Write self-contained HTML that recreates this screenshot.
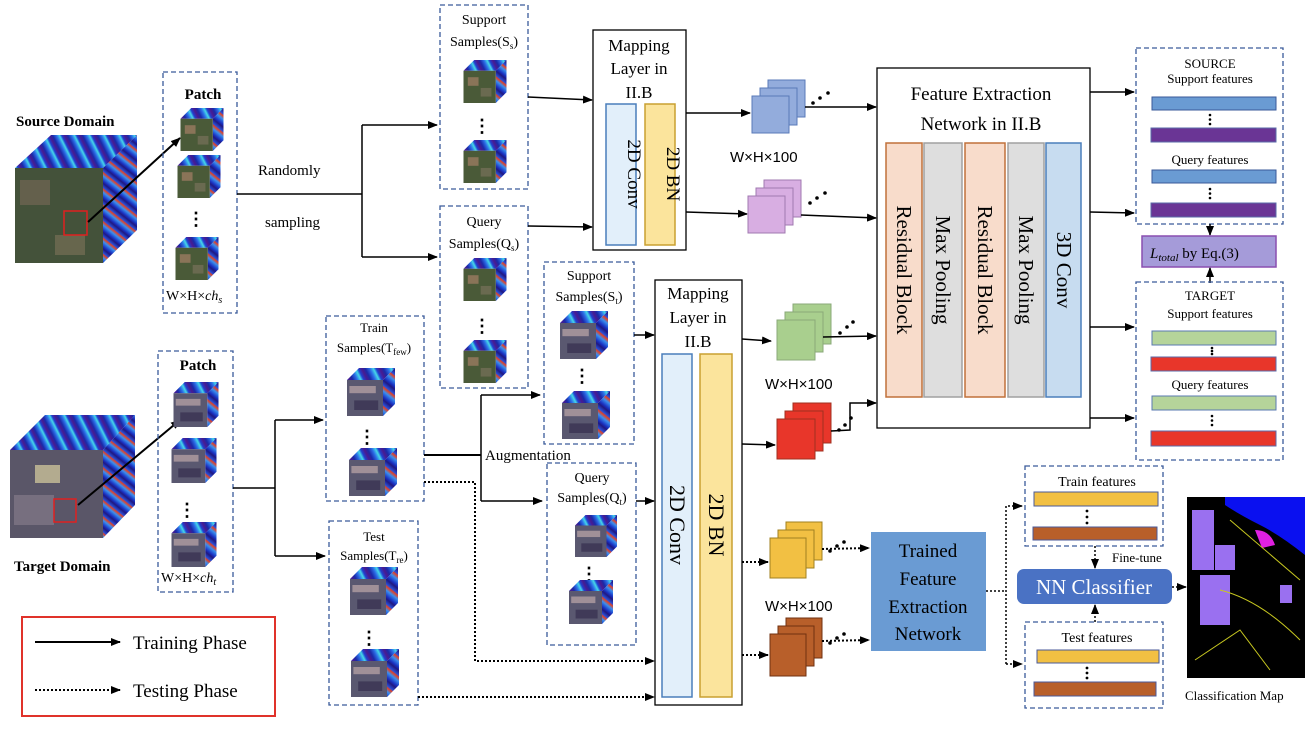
<!DOCTYPE html>
<html><head><meta charset="utf-8"><style>
html,body{margin:0;padding:0;background:#fff;}
svg{display:block;}
text{font-family:"Liberation Serif",serif;fill:#000;}
.s{font-family:"Liberation Sans",sans-serif;}
</style></head><body>
<svg width="1315" height="732" viewBox="0 0 1315 732" xmlns="http://www.w3.org/2000/svg">
<defs>
<linearGradient id="st" x1="0" y1="0" x2="12" y2="-6" gradientUnits="userSpaceOnUse" spreadMethod="repeat">
<stop offset="0" stop-color="#1a2aa8"/><stop offset="0.25" stop-color="#2c6ee8"/><stop offset="0.45" stop-color="#45d8e8"/><stop offset="0.6" stop-color="#2040d0"/><stop offset="0.8" stop-color="#4a1a90"/><stop offset="1" stop-color="#1a2aa8"/>
</linearGradient>
<linearGradient id="st2" x1="0" y1="0" x2="8" y2="-10" gradientUnits="userSpaceOnUse" spreadMethod="repeat">
<stop offset="0" stop-color="#1a30c0"/><stop offset="0.3" stop-color="#3a90f0"/><stop offset="0.5" stop-color="#e84020"/><stop offset="0.6" stop-color="#2a50d8"/><stop offset="0.85" stop-color="#201880"/><stop offset="1" stop-color="#1a30c0"/>
</linearGradient>
<marker id="a" markerWidth="10" markerHeight="8" refX="9" refY="4" orient="auto" markerUnits="userSpaceOnUse"><path d="M0,0L10,4L0,8z" fill="#000"/></marker>
<symbol id="cg" viewBox="0 0 40 40"><polygon points="0,10 10,0 40,0 30,10" fill="url(#st)"/><polygon points="30,10 40,0 40,30 30,40" fill="url(#st2)"/><rect x="0" y="10" width="30" height="30" fill="#4a5a38"/><rect x="4" y="16" width="10" height="8" fill="#8a7458"/><rect x="16" y="26" width="10" height="8" fill="#6a6a50"/></symbol>
<symbol id="ct" viewBox="0 0 40 40"><polygon points="0,10 10,0 40,0 30,10" fill="url(#st)"/><polygon points="30,10 40,0 40,30 30,40" fill="url(#st2)"/><rect x="0" y="10" width="30" height="30" fill="#5a5870"/><rect x="2" y="15" width="22" height="6" fill="#a09098"/><rect x="6" y="27" width="20" height="8" fill="#403a58"/></symbol>
</defs>

<text x="16" y="126" font-size="15" font-weight="bold">Source Domain</text>
<polygon points="15,168 51,135 137,135 103,168" fill="url(#st)"/>
<polygon points="103,168 137,135 137,230 103,263" fill="url(#st2)"/>
<rect x="15" y="168" width="88" height="95" fill="#44523a"/>
<rect x="20" y="180" width="30" height="25" fill="#7a6a58" opacity=".6"/>
<rect x="55" y="235" width="30" height="20" fill="#8a7a60" opacity=".5"/>
<rect x="64" y="211" width="23" height="24" fill="none" stroke="#e02020" stroke-width="1.5"/>
<line x1="88" y1="222" x2="180" y2="138" stroke="#000" stroke-width="2" marker-end="url(#a)"/>

<rect x="163" y="72" width="74" height="241" fill="none" stroke="#3a5a9a" stroke-width="1.3" stroke-dasharray="5,3"/>
<text x="203" y="99" font-size="15" font-weight="bold" text-anchor="middle">Patch</text>
<use href="#cg" x="179" y="108" width="46" height="43"/>
<use href="#cg" x="176" y="155" width="46" height="43"/>
<text x="187" y="225" font-size="18" font-weight="bold">⋮</text>
<use href="#cg" x="174" y="237" width="46" height="43"/>
<text x="166" y="300" font-size="14">W×H×<tspan font-style="italic">ch<tspan font-size="10" dy="3">s</tspan></tspan></text>

<polyline points="237,194 362,194" fill="none" stroke="#000" stroke-width="1.5"/>
<polyline points="362,125 362,257" fill="none" stroke="#000" stroke-width="1.5"/>
<line x1="362" y1="125" x2="437" y2="125" stroke="#000" stroke-width="1.5" marker-end="url(#a)"/>
<line x1="362" y1="257" x2="437" y2="257" stroke="#000" stroke-width="1.5" marker-end="url(#a)"/>
<text x="258" y="175" font-size="15">Randomly</text>
<text x="265" y="227" font-size="15">sampling</text>

<rect x="440" y="5" width="88" height="184" fill="none" stroke="#3a5a9a" stroke-width="1.3" stroke-dasharray="5,3"/>
<text x="484" y="24" font-size="14" text-anchor="middle">Support</text>
<text x="484" y="46" font-size="14" text-anchor="middle">Samples(S<tspan font-size="9" dy="3">s</tspan><tspan dy="-3">)</tspan></text>
<use href="#cg" x="462" y="60" width="46" height="43"/>
<text x="473" y="132" font-size="18" font-weight="bold">⋮</text>
<use href="#cg" x="462" y="140" width="46" height="43"/>
<rect x="440" y="206" width="88" height="182" fill="none" stroke="#3a5a9a" stroke-width="1.3" stroke-dasharray="5,3"/>
<text x="484" y="226" font-size="14" text-anchor="middle">Query</text>
<text x="484" y="248" font-size="14" text-anchor="middle">Samples(Q<tspan font-size="9" dy="3">s</tspan><tspan dy="-3">)</tspan></text>
<use href="#cg" x="462" y="258" width="46" height="43"/>
<text x="473" y="332" font-size="18" font-weight="bold">⋮</text>
<use href="#cg" x="462" y="340" width="46" height="43"/>

<line x1="528" y1="97" x2="592" y2="100" stroke="#000" stroke-width="1.5" marker-end="url(#a)"/>
<line x1="528" y1="226" x2="592" y2="227" stroke="#000" stroke-width="1.5" marker-end="url(#a)"/>

<rect x="593" y="30" width="93" height="220" fill="#fff" stroke="#000" stroke-width="1.3"/>
<text x="639" y="51" font-size="17" text-anchor="middle">Mapping</text>
<text x="639" y="74" font-size="17" text-anchor="middle">Layer in</text>
<text x="639" y="98" font-size="17" text-anchor="middle">II.B</text>
<rect x="606" y="104" width="30" height="141" fill="#e2effa" stroke="#4a7ebb" stroke-width="1.5"/>
<rect x="645" y="104" width="30" height="141" fill="#fbe49c" stroke="#c9a030" stroke-width="1.5"/>
<text transform="translate(628,174) rotate(90)" font-size="19" text-anchor="middle">2D Conv</text>
<text transform="translate(667,174) rotate(90)" font-size="19" text-anchor="middle">2D BN</text>

<line x1="686" y1="113" x2="750" y2="113" stroke="#000" stroke-width="1.5" marker-end="url(#a)"/>
<g stroke="#5a7ab8" stroke-width="1" fill="#93acdc"><rect x="768" y="80" width="37" height="37"/><rect x="760" y="88" width="37" height="37"/><rect x="752" y="96" width="37" height="37"/></g>
<g fill="#000"><circle cx="813" cy="103" r="1.8"/><circle cx="820" cy="98" r="1.8"/><circle cx="828" cy="93" r="1.8"/></g>
<line x1="805" y1="107" x2="876" y2="107" stroke="#000" stroke-width="1.5" marker-end="url(#a)"/>
<text x="730" y="162" font-size="15" class="s">W×H×100</text>
<line x1="686" y1="212" x2="747" y2="214" stroke="#000" stroke-width="1.5" marker-end="url(#a)"/>
<g stroke="#a07ab0" stroke-width="1" fill="#d8aee2"><rect x="764" y="180" width="37" height="37"/><rect x="756" y="188" width="37" height="37"/><rect x="748" y="196" width="37" height="37"/></g>
<g fill="#000"><circle cx="810" cy="203" r="1.8"/><circle cx="817" cy="198" r="1.8"/><circle cx="825" cy="193" r="1.8"/></g>
<line x1="801" y1="215" x2="876" y2="218" stroke="#000" stroke-width="1.5" marker-end="url(#a)"/>

<rect x="877" y="68" width="213" height="360" fill="#fff" stroke="#000" stroke-width="1.3"/>
<text x="981" y="100" font-size="19" text-anchor="middle">Feature Extraction</text>
<text x="981" y="130" font-size="19" text-anchor="middle">Network in II.B</text>
<rect x="886" y="143" width="36" height="254" fill="#f8dccb" stroke="#c0703a" stroke-width="1.5"/>
<rect x="924" y="143" width="38" height="254" fill="#dedede" stroke="#a0a0a0" stroke-width="1.5"/>
<rect x="965" y="143" width="40" height="254" fill="#f8dccb" stroke="#c0703a" stroke-width="1.5"/>
<rect x="1008" y="143" width="36" height="254" fill="#dedede" stroke="#a0a0a0" stroke-width="1.5"/>
<rect x="1046" y="143" width="35" height="254" fill="#c7dcf0" stroke="#4a7ebb" stroke-width="1.5"/>
<text transform="translate(897,270) rotate(90)" font-size="21" text-anchor="middle">Residual Block</text>
<text transform="translate(936,270) rotate(90)" font-size="21" text-anchor="middle">Max Pooling</text>
<text transform="translate(978,270) rotate(90)" font-size="21" text-anchor="middle">Residual Block</text>
<text transform="translate(1019,270) rotate(90)" font-size="21" text-anchor="middle">Max Pooling</text>
<text transform="translate(1057,270) rotate(90)" font-size="21" text-anchor="middle">3D Conv</text>

<g stroke="#000" stroke-width="1.5" marker-end="url(#a)">
<line x1="1090" y1="92" x2="1134" y2="92"/><line x1="1090" y1="212" x2="1134" y2="213"/>
<line x1="1090" y1="327" x2="1134" y2="327"/><line x1="1090" y1="418" x2="1134" y2="418"/>
</g>

<rect x="1136" y="48" width="147" height="176" fill="none" stroke="#3a5a9a" stroke-width="1.3" stroke-dasharray="5,3"/>
<text x="1210" y="68" font-size="13" text-anchor="middle">SOURCE</text>
<text x="1210" y="83" font-size="13" text-anchor="middle">Support features</text>
<rect x="1152" y="97" width="124" height="13" fill="#6a9bd3" stroke="#3a5a9a"/>
<g fill="#000"><circle cx="1210" cy="115" r="1.3"/><circle cx="1210" cy="119.5" r="1.3"/><circle cx="1210" cy="124" r="1.3"/></g>
<rect x="1151" y="128" width="125" height="14" fill="#6a3595" stroke="#5a6aa8"/>
<text x="1210" y="164" font-size="13" text-anchor="middle">Query features</text>
<rect x="1152" y="170" width="124" height="13" fill="#6a9bd3" stroke="#3a5a9a"/>
<g fill="#000"><circle cx="1210" cy="189" r="1.3"/><circle cx="1210" cy="193.5" r="1.3"/><circle cx="1210" cy="198" r="1.3"/></g>
<rect x="1151" y="203" width="125" height="14" fill="#6a3595" stroke="#5a6aa8"/>
<line x1="1210" y1="224" x2="1210" y2="235" stroke="#000" stroke-width="1.5" marker-end="url(#a)"/>
<rect x="1142" y="236" width="134" height="31" fill="#a59bd9" stroke="#8a4fb0" stroke-width="1.5"/>
<text x="1150" y="258" font-size="15"><tspan font-style="italic">L<tspan font-size="11" dy="3">total</tspan></tspan><tspan dy="-3">  by  Eq.(3)</tspan></text>
<line x1="1210" y1="283" x2="1210" y2="268" stroke="#000" stroke-width="1.5" marker-end="url(#a)"/>

<rect x="1136" y="282" width="147" height="178" fill="none" stroke="#3a5a9a" stroke-width="1.3" stroke-dasharray="5,3"/>
<text x="1210" y="300" font-size="13" text-anchor="middle">TARGET</text>
<text x="1210" y="318" font-size="13" text-anchor="middle">Support features</text>
<rect x="1152" y="331" width="124" height="14" fill="#b5d49a" stroke="#5a7ab0"/>
<g fill="#000"><circle cx="1212" cy="348" r="1.3"/><circle cx="1212" cy="351" r="1.3"/><circle cx="1212" cy="354" r="1.3"/></g>
<rect x="1151" y="357" width="125" height="14" fill="#e8362a" stroke="#5a6aa8"/>
<text x="1210" y="389" font-size="13" text-anchor="middle">Query features</text>
<rect x="1152" y="396" width="124" height="14" fill="#b5d49a" stroke="#5a7ab0"/>
<g fill="#000"><circle cx="1212" cy="416" r="1.3"/><circle cx="1212" cy="420.5" r="1.3"/><circle cx="1212" cy="425" r="1.3"/></g>
<rect x="1151" y="431" width="125" height="15" fill="#e8362a" stroke="#5a6aa8"/>

<polygon points="10,450 45,415 135,415 103,450" fill="url(#st)"/>
<polygon points="103,450 135,415 135,505 103,538" fill="url(#st2)"/>
<rect x="10" y="450" width="93" height="88" fill="#5a5668"/>
<rect x="35" y="465" width="25" height="18" fill="#d8d0a0" opacity=".7"/>
<rect x="14" y="495" width="40" height="30" fill="#8a8090" opacity=".6"/>
<rect x="54" y="499" width="22" height="23" fill="none" stroke="#e02020" stroke-width="1.5"/>
<line x1="78" y1="505" x2="180" y2="420" stroke="#000" stroke-width="2" marker-end="url(#a)"/>
<text x="14" y="571" font-size="15" font-weight="bold">Target Domain</text>

<rect x="158" y="351" width="75" height="241" fill="none" stroke="#3a5a9a" stroke-width="1.3" stroke-dasharray="5,3"/>
<text x="198" y="370" font-size="15" font-weight="bold" text-anchor="middle">Patch</text>
<use href="#ct" x="172" y="382" width="48" height="45"/>
<use href="#ct" x="170" y="438" width="48" height="45"/>
<text x="178" y="516" font-size="18" font-weight="bold">⋮</text>
<use href="#ct" x="170" y="522" width="48" height="45"/>
<text x="161" y="582" font-size="14">W×H×<tspan font-style="italic">ch<tspan font-size="10" dy="3">t</tspan></tspan></text>

<line x1="233" y1="488" x2="275" y2="488" stroke="#000" stroke-width="1.5"/>
<line x1="275" y1="420" x2="275" y2="556" stroke="#000" stroke-width="1.5"/>
<line x1="275" y1="420" x2="323" y2="420" stroke="#000" stroke-width="1.5" marker-end="url(#a)"/>
<line x1="275" y1="556" x2="325" y2="556" stroke="#000" stroke-width="1.5" marker-end="url(#a)"/>

<rect x="326" y="316" width="98" height="185" fill="none" stroke="#3a5a9a" stroke-width="1.3" stroke-dasharray="5,3"/>
<text x="374" y="332" font-size="13" text-anchor="middle">Train</text>
<text x="374" y="352" font-size="13" text-anchor="middle">Samples(T<tspan font-size="9" dy="3">few</tspan><tspan dy="-3">)</tspan></text>
<use href="#ct" x="347" y="367" width="48" height="50"/>
<text x="358" y="443" font-size="18" font-weight="bold">⋮</text>
<use href="#ct" x="349" y="447" width="48" height="50"/>
<rect x="329" y="521" width="89" height="184" fill="none" stroke="#3a5a9a" stroke-width="1.3" stroke-dasharray="5,3"/>
<text x="374" y="541" font-size="13" text-anchor="middle">Test</text>
<text x="374" y="560" font-size="13" text-anchor="middle">Samples(T<tspan font-size="9" dy="3">re</tspan><tspan dy="-3">)</tspan></text>
<use href="#ct" x="350" y="566" width="48" height="50"/>
<text x="360" y="644" font-size="18" font-weight="bold">⋮</text>
<use href="#ct" x="351" y="648" width="48" height="50"/>

<line x1="424" y1="455" x2="481" y2="455" stroke="#000" stroke-width="2"/>
<line x1="481" y1="395" x2="481" y2="501" stroke="#000" stroke-width="1.5"/>
<line x1="481" y1="395" x2="540" y2="395" stroke="#000" stroke-width="1.5" marker-end="url(#a)"/>
<line x1="481" y1="501" x2="542" y2="501" stroke="#000" stroke-width="1.5" marker-end="url(#a)"/>
<text x="485" y="460" font-size="15">Augmentation</text>
<polyline points="424,482 475,482 475,661 653,661" fill="none" stroke="#000" stroke-width="2" stroke-dasharray="2,2"/>
<path d="M645,657L655,661L645,665z"/>
<line x1="418" y1="697" x2="647" y2="697" stroke="#000" stroke-width="2" stroke-dasharray="2,2"/>
<path d="M645,693L655,697L645,701z"/>

<rect x="544" y="262" width="90" height="182" fill="none" stroke="#3a5a9a" stroke-width="1.3" stroke-dasharray="5,3"/>
<text x="589" y="280" font-size="14" text-anchor="middle">Support</text>
<text x="589" y="301" font-size="14" text-anchor="middle">Samples(S<tspan font-size="9" dy="3">t</tspan><tspan dy="-3">)</tspan></text>
<use href="#ct" x="560" y="310" width="48" height="50"/>
<text x="573" y="382" font-size="18" font-weight="bold">⋮</text>
<use href="#ct" x="562" y="390" width="48" height="50"/>
<rect x="547" y="463" width="89" height="182" fill="none" stroke="#3a5a9a" stroke-width="1.3" stroke-dasharray="5,3"/>
<text x="592" y="482" font-size="14" text-anchor="middle">Query</text>
<text x="592" y="502" font-size="14" text-anchor="middle">Samples(Q<tspan font-size="9" dy="3">t</tspan><tspan dy="-3">)</tspan></text>
<use href="#ct" x="572" y="515" width="48" height="42"/>
<text x="580" y="580" font-size="18" font-weight="bold">⋮</text>
<use href="#ct" x="567" y="580" width="48" height="44"/>

<line x1="634" y1="335" x2="654" y2="335" stroke="#000" stroke-width="1.5" marker-end="url(#a)"/>
<line x1="636" y1="501" x2="654" y2="501" stroke="#000" stroke-width="1.5" marker-end="url(#a)"/>

<rect x="655" y="280" width="87" height="425" fill="#fff" stroke="#000" stroke-width="1.3"/>
<text x="698" y="299" font-size="17" text-anchor="middle">Mapping</text>
<text x="698" y="323" font-size="17" text-anchor="middle">Layer in</text>
<text x="698" y="347" font-size="17" text-anchor="middle">II.B</text>
<rect x="662" y="354" width="30" height="343" fill="#e2effa" stroke="#4a7ebb" stroke-width="1.5"/>
<rect x="700" y="354" width="32" height="343" fill="#fbe49c" stroke="#c9a030" stroke-width="1.5"/>
<text transform="translate(670,525) rotate(90)" font-size="22" text-anchor="middle">2D Conv</text>
<text transform="translate(709,525) rotate(90)" font-size="22" text-anchor="middle">2D BN</text>

<line x1="742" y1="339" x2="771" y2="341" stroke="#000" stroke-width="1.5" marker-end="url(#a)"/>
<g stroke="#8aa878" stroke-width="1" fill="#a9cf8e"><rect x="793" y="304" width="38" height="40"/><rect x="785" y="312" width="38" height="40"/><rect x="777" y="320" width="38" height="40"/></g>
<g fill="#000"><circle cx="840" cy="333" r="1.8"/><circle cx="847" cy="327" r="1.8"/><circle cx="853" cy="322" r="1.8"/></g>
<line x1="823" y1="337" x2="876" y2="336" stroke="#000" stroke-width="1.5" marker-end="url(#a)"/>
<text x="765" y="389" font-size="15" class="s">W×H×100</text>
<line x1="742" y1="444" x2="775" y2="445" stroke="#000" stroke-width="1.5" marker-end="url(#a)"/>
<g stroke="#a03020" stroke-width="1" fill="#e8362a"><rect x="793" y="403" width="38" height="40"/><rect x="785" y="411" width="38" height="40"/><rect x="777" y="419" width="38" height="40"/></g>
<g fill="#000"><circle cx="839" cy="430" r="1.8"/><circle cx="845" cy="425" r="1.8"/><circle cx="851" cy="418" r="1.8"/></g>
<polyline points="831,431 850,430 850,403 876,403" fill="none" stroke="#000" stroke-width="1.5" marker-end="url(#a)"/>

<line x1="742" y1="562" x2="768" y2="562" stroke="#000" stroke-width="2" stroke-dasharray="2,2" marker-end="url(#a)"/>
<g stroke="#a08020" stroke-width="1" fill="#f2c043"><rect x="786" y="522" width="36" height="38"/><rect x="778" y="530" width="36" height="38"/><rect x="770" y="538" width="36" height="40"/></g>
<g fill="#000"><circle cx="830" cy="551" r="1.8"/><circle cx="837" cy="546" r="1.8"/><circle cx="844" cy="542" r="1.8"/></g>
<line x1="822" y1="549" x2="869" y2="548" stroke="#000" stroke-width="2" stroke-dasharray="2,2" marker-end="url(#a)"/>
<text x="765" y="611" font-size="15" class="s">W×H×100</text>
<line x1="742" y1="655" x2="768" y2="655" stroke="#000" stroke-width="2" stroke-dasharray="2,2" marker-end="url(#a)"/>
<g stroke="#703010" stroke-width="1" fill="#b85f2a"><rect x="786" y="618" width="36" height="40"/><rect x="778" y="626" width="36" height="40"/><rect x="770" y="634" width="36" height="42"/></g>
<g fill="#000"><circle cx="830" cy="643" r="1.8"/><circle cx="837" cy="638" r="1.8"/><circle cx="844" cy="634" r="1.8"/></g>
<line x1="822" y1="641" x2="869" y2="640" stroke="#000" stroke-width="2" stroke-dasharray="2,2" marker-end="url(#a)"/>

<rect x="871" y="532" width="115" height="119" fill="#6a9bd3"/>
<text x="928" y="557" font-size="19" text-anchor="middle">Trained</text>
<text x="928" y="585" font-size="19" text-anchor="middle">Feature</text>
<text x="928" y="613" font-size="19" text-anchor="middle">Extraction</text>
<text x="928" y="640" font-size="19" text-anchor="middle">Network</text>
<polyline points="986,591 1005,591" fill="none" stroke="#000" stroke-width="1.5" stroke-dasharray="2,2"/>
<polyline points="1006,664 1006,506 1022,506" fill="none" stroke="#000" stroke-width="1.5" stroke-dasharray="2,2" marker-end="url(#a)"/>
<line x1="1006" y1="664" x2="1022" y2="664" stroke="#000" stroke-width="1.5" stroke-dasharray="2,2" marker-end="url(#a)"/>

<rect x="1025" y="466" width="138" height="80" fill="none" stroke="#3a5a9a" stroke-width="1.3" stroke-dasharray="5,3"/>
<text x="1097" y="486" font-size="14" text-anchor="middle">Train features</text>
<rect x="1034" y="492" width="124" height="14" fill="#f2c043" stroke="#4a5a9a"/>
<g fill="#000"><circle cx="1087" cy="511" r="1.4"/><circle cx="1087" cy="517" r="1.4"/><circle cx="1087" cy="523" r="1.4"/></g>
<rect x="1033" y="527" width="124" height="13" fill="#b85f2a" stroke="#4a5a9a"/>
<rect x="1025" y="622" width="138" height="86" fill="none" stroke="#3a5a9a" stroke-width="1.3" stroke-dasharray="5,3"/>
<text x="1097" y="642" font-size="14" text-anchor="middle">Test features</text>
<rect x="1037" y="650" width="122" height="13" fill="#f2c043" stroke="#4a5a9a"/>
<g fill="#000"><circle cx="1087" cy="668" r="1.4"/><circle cx="1087" cy="673" r="1.4"/><circle cx="1087" cy="678" r="1.4"/></g>
<rect x="1034" y="682" width="122" height="14" fill="#b85f2a" stroke="#4a5a9a"/>

<line x1="1095" y1="546" x2="1095" y2="568" stroke="#000" stroke-width="1.5" stroke-dasharray="2,2" marker-end="url(#a)"/>
<line x1="1095" y1="622" x2="1095" y2="605" stroke="#000" stroke-width="1.5" stroke-dasharray="2,2" marker-end="url(#a)"/>
<text x="1112" y="562" font-size="13">Fine-tune</text>
<rect x="1017" y="569" width="155" height="35" rx="7" fill="#4a72c4"/>
<text x="1094" y="594" font-size="21" text-anchor="middle" style="fill:#fff">NN Classifier</text>
<line x1="1172" y1="587" x2="1186" y2="587" stroke="#000" stroke-width="1.5" stroke-dasharray="2,2" marker-end="url(#a)"/>

<rect x="1187" y="497" width="118" height="181" fill="#000"/>
<path d="M1225,497 L1305,497 L1305,555 Q1280,535 1260,525 Q1240,515 1225,505z" fill="#0a10f0"/>
<path d="M1255,530 Q1270,530 1275,545 L1262,548z" fill="#e020e0"/>
<g fill="#9a70f0"><rect x="1192" y="510" width="22" height="60"/><rect x="1200" y="575" width="30" height="50"/><rect x="1215" y="545" width="20" height="25"/><rect x="1280" y="585" width="12" height="18"/></g>
<g stroke="#c8c820" fill="none" stroke-width="1"><path d="M1220,590 Q1260,600 1300,640"/><path d="M1195,660 L1240,630 L1270,670"/><path d="M1230,520 L1300,580"/></g>
<text x="1185" y="700" font-size="13">Classification Map</text>

<rect x="22" y="617" width="253" height="99" fill="none" stroke="#e0322a" stroke-width="2"/>
<line x1="35" y1="642" x2="120" y2="642" stroke="#000" stroke-width="2" marker-end="url(#a)"/>
<text x="133" y="649" font-size="19">Training Phase</text>
<line x1="35" y1="690" x2="120" y2="690" stroke="#000" stroke-width="2" stroke-dasharray="2,2" marker-end="url(#a)"/>
<text x="133" y="697" font-size="19">Testing Phase</text>
</svg>
</body></html>
